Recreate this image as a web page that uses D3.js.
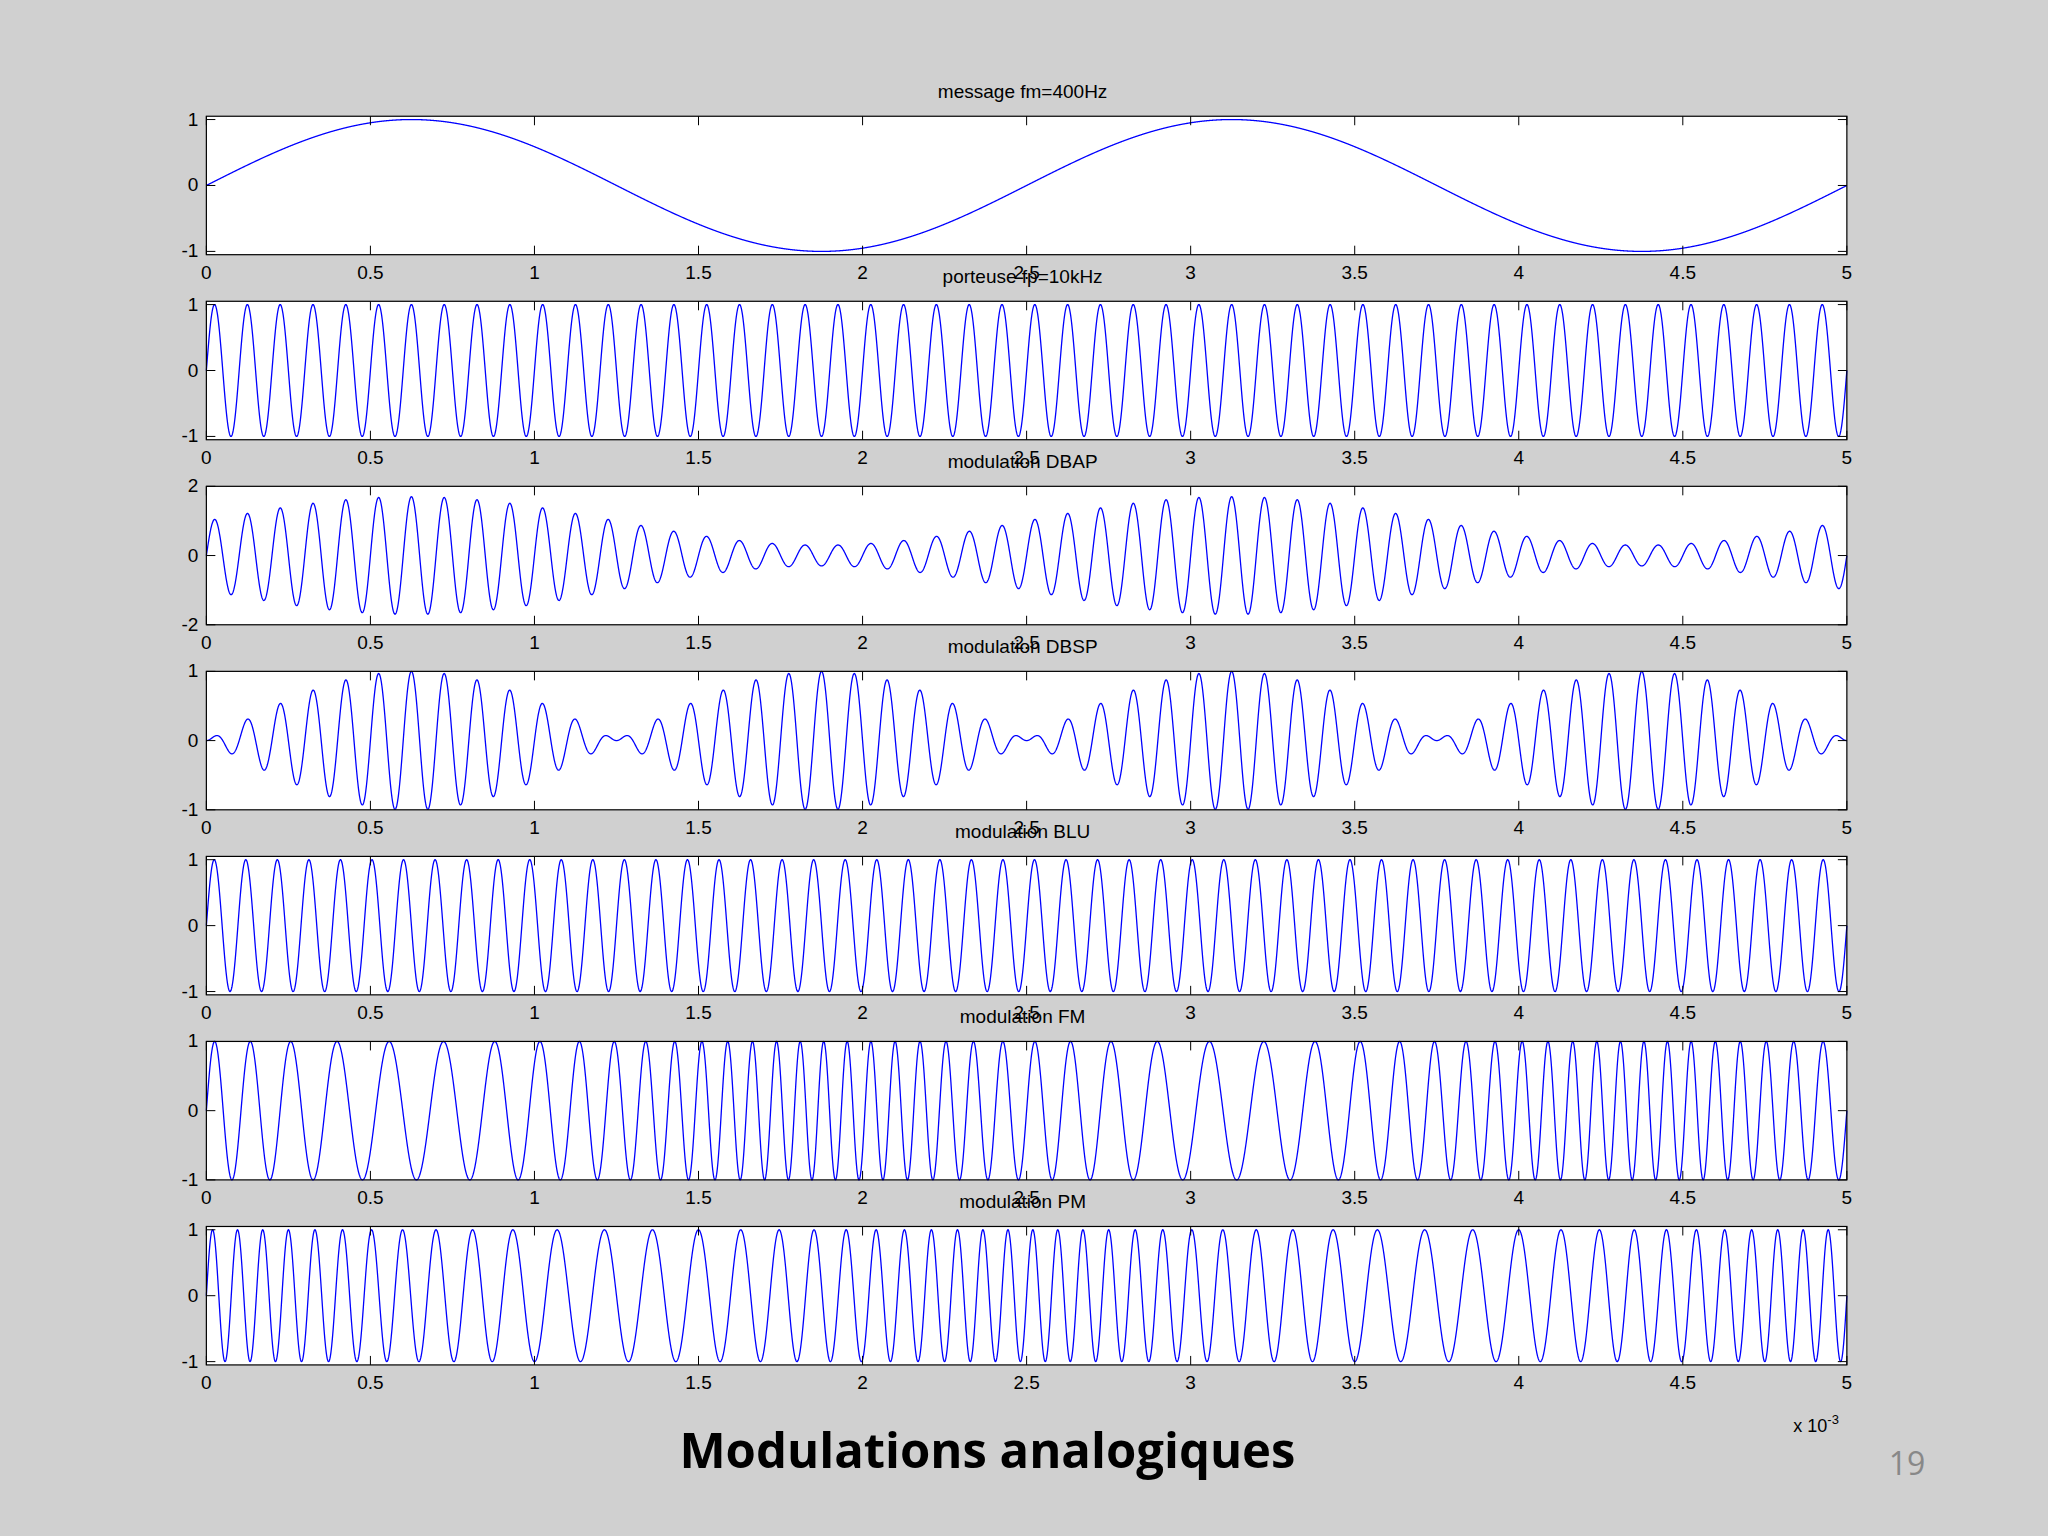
<!DOCTYPE html>
<html><head><meta charset="utf-8">
<script src="https://cdn.jsdelivr.net/npm/d3@7"></script>
<style>body{margin:0;background:#d0d0d0}svg{display:block}</style>
</head><body>
<script>
// Signal definitions (parameters of the MATLAB figure)
const titles = ["message fm=400Hz","porteuse fp=10kHz","modulation DBAP","modulation DBSP","modulation BLU","modulation FM","modulation PM"];
const yDomains = [[-1.05,1.05],[-1.05,1.05],[-2,2],[-1,1],[-1.05,1.05],[-1,1],[-1.05,1.05]];
const yTicks = [[-1,0,1],[-1,0,1],[-2,0,2],[-1,0,1],[-1,0,1],[-1,0,1],[-1,0,1]];
const xTicks = [0,0.5,1,1.5,2,2.5,3,3.5,4,4.5,5];
const fm = 400, fc = 10000, mIndex = 0.7, fDev = 4000, pDev = 8;

const W=2048,H=1536,s=W/1568;
const svg=d3.select("body").append("svg").attr("width",W).attr("height",H);
svg.append("rect").attr("width",W).attr("height",H).attr("fill","#d0d0d0");
const L=158*s,R=1414*s,ph=106*s;
const x=d3.scaleLinear().domain([0,5]).range([L,R]);
const N=6000;
const ts=d3.range(N+1).map(i=>i*5e-3/N);
const sig=[
 t=>Math.sin(2*Math.PI*fm*t),
 t=>Math.sin(2*Math.PI*fc*t),
 t=>(1+mIndex*Math.sin(2*Math.PI*fm*t))*Math.sin(2*Math.PI*fc*t),
 t=>Math.sin(2*Math.PI*fm*t)*Math.sin(2*Math.PI*fc*t),
 t=>Math.sin(2*Math.PI*(fc+fm)*t),
 t=>Math.sin(2*Math.PI*fc*t+(fDev/fm)*Math.cos(2*Math.PI*fm*t)-(fDev/fm)),
 t=>Math.sin(2*Math.PI*fc*t+pDev*Math.sin(2*Math.PI*fm*t))
];
const font="Liberation Sans, Arial, sans-serif";
titles.forEach((tt,i)=>{
  const top=(89+i*141.67)*s;
  const y=d3.scaleLinear().domain(yDomains[i]).range([top+ph,top]);
  const g=svg.append("g");
  g.append("rect").attr("x",L).attr("y",top).attr("width",R-L).attr("height",ph).attr("fill","#fff");
  g.append("path").datum(ts).attr("fill","none").attr("stroke","#0000ff").attr("stroke-width",1.3)
   .attr("d",d3.line().x(t=>x(t*1000)).y(t=>y(sig[i](t))));
  g.append("rect").attr("x",L).attr("y",top).attr("width",R-L).attr("height",ph).attr("fill","none").attr("stroke","#000").attr("stroke-width",1.2);
  const tl=9;
  xTicks.forEach(v=>{
    g.append("line").attr("x1",x(v)).attr("x2",x(v)).attr("y1",top+ph).attr("y2",top+ph-tl).attr("stroke","#000");
    g.append("line").attr("x1",x(v)).attr("x2",x(v)).attr("y1",top).attr("y2",top+tl).attr("stroke","#000");
    g.append("text").attr("x",x(v)).attr("y",top+ph+24).attr("text-anchor","middle").attr("font-family",font).attr("font-size",19).text(v);
  });
  yTicks[i].forEach(v=>{
    g.append("line").attr("x1",L).attr("x2",L+tl).attr("y1",y(v)).attr("y2",y(v)).attr("stroke","#000");
    g.append("line").attr("x1",R).attr("x2",R-tl).attr("y1",y(v)).attr("y2",y(v)).attr("stroke","#000");
    g.append("text").attr("x",L-8).attr("y",y(v)+6).attr("text-anchor","end").attr("font-family",font).attr("font-size",19).text(v);
  });
  g.append("text").attr("x",(L+R)/2-4).attr("y",top-18).attr("text-anchor","middle").attr("font-family",font).attr("font-size",19).text(tt);
});
const bt=svg.append("text").attr("x",1373*s).attr("y",1096*s).attr("font-family",font).attr("font-size",18);
bt.append("tspan").text("x 10");
bt.append("tspan").attr("dy",-8).attr("font-size",13).text("-3");
svg.append("text").attr("x",756*s).attr("y",1124*s).attr("text-anchor","middle").attr("font-family","Open Sans, Liberation Sans, sans-serif").attr("font-weight","bold").attr("font-size",49).text("Modulations analogiques");
svg.append("text").attr("x",1460*s).attr("y",1129*s).attr("text-anchor","middle").attr("font-family","Open Sans, sans-serif").attr("font-size",32).attr("fill","#888").text("19");
</script>
</body></html>
